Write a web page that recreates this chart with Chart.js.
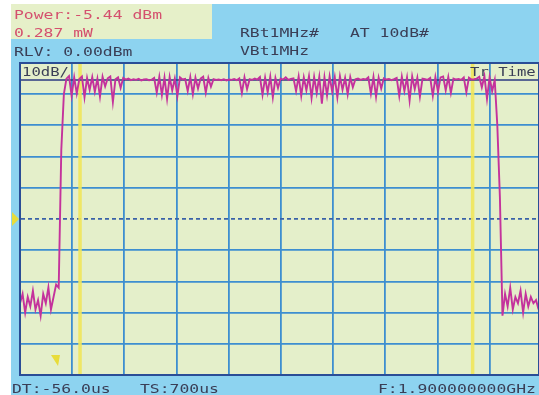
<!DOCTYPE html>
<html>
<head>
<meta charset="utf-8">
<script src="https://cdn.jsdelivr.net/npm/chart.js@4"></script>
<style>
    body { margin: 0; background: #fff; }
    #wrap { position: relative; width: 539px; height: 395px; overflow: hidden; }
    #panel { position: absolute; left: 11px; top: 4px; right: 0; bottom: 0; background: #8dd3f0; }
    #powerbox { position: absolute; left: 11px; top: 4px; width: 201px; height: 35px; background: #e6f0c9; }
    canvas { position: absolute; left: 0; top: 0; }
    .t {
        position: absolute; white-space: pre;
        font-family: "DejaVu Sans Mono", monospace; font-size: 16.4px; line-height: 16px;
        color: #3a3e56; transform: scaleY(0.8); transform-origin: 0 0;
    }
    .red { color: #d4506e; }
    .small { font-size: 15.6px; }
</style>
</head>
<body>
<div id="wrap">
    <div id="panel"></div>
    <div id="powerbox"></div>
    <canvas id="sa" width="539" height="395"></canvas>

    <div class="t red" style="left:14px; top:9px;">Power:-5.44 dBm</div>
    <div class="t red" style="left:14px; top:26.5px;">0.287 mW</div>
    <div class="t" style="left:14px; top:45.5px;">RLV: 0.00dBm</div>
    <div class="t" style="left:240px; top:26.5px;">RBt1MHz#</div>
    <div class="t" style="left:350px; top:26.5px;">AT 10dB#</div>
    <div class="t" style="left:240px; top:44.5px;">VBt1MHz</div>
    <div class="t small" style="left:22px; top:65.5px;">10dB/</div>
    <div class="t small" style="left:470px; top:65.5px;">Tr Time</div>
    <div class="t" style="left:12px; top:382.5px;">DT:-56.0us</div>
    <div class="t" style="left:140px; top:382.5px;">TS:700us</div>
    <div class="t" style="left:378px; top:382.5px;">F:1.900000000GHz</div>
</div>

<script>
// sweep: 700us span, 10 dB/div from a 0 dBm reference level
const SAMPLE_US = 3.46;
const X_DIVS = [0, 70, 140, 210, 280, 350, 420, 490, 560, 630];
const Y_DIVS = [-100, -90, -80, -70, -60, -50, -40, -30, -20, -10, 0];
const POWER_DBM = -5.44;
const MARKERS_US = [80.5, 607];

// trace level in dBm, one value per sample
const TRACE_DBM = [
    -77, -74, -80, -75, -78, -73, -79, -76, -81, -74, -77, -72, -79, -75, -71,
    -72, -28, -10,
    -5.0, -4.2, -10.5, -4.6, -9.8, -5.1, -4.3, -11.0, -4.8, -8.6,
    -4.5, -9.2, -5.0, -10.8, -4.4, -7.5, -4.9, -4.3, -12.5, -5.2,
    -4.6, -8.0, -4.8, -5.3, -5.0, -5.5, -5.2, -5.4, -5.1, -5.6,
    -5.3, -5.2, -5.5, -5.4, -4.8, -9.5, -4.4, -10.2, -4.7, -11.5,
    -4.5, -8.8, -5.0, -10.6, -4.6, -5.3, -5.1, -9.0, -4.5, -10.0,
    -4.7, -8.2, -5.0, -4.4, -9.5, -4.8, -7.6, -5.2, -5.4, -5.3,
    -5.5, -5.2, -5.6, -5.3, -5.4, -5.1, -5.5, -4.9, -9.6, -4.6,
    -8.4, -5.2, -5.4, -5.0, -5.3, -4.5, -10.2, -4.7, -9.4, -4.4,
    -11.0, -4.8, -8.0, -5.0, -5.3, -4.6, -5.4, -5.1, -4.9, -9.0,
    -4.3, -10.5, -4.6, -8.8, -4.2, -11.2, -4.5, -9.6, -4.4, -13.0,
    -4.6, -10.4, -4.3, -9.2, -4.5, -11.0, -4.2, -8.6, -4.8, -10.0,
    -4.5, -7.8, -5.2, -5.0, -5.4, -5.1, -5.3, -4.6, -9.8, -4.5,
    -10.8, -4.7, -8.2, -4.9, -5.3, -5.1, -5.5, -5.2, -4.8, -10.6,
    -4.4, -9.0, -4.6, -12.0, -4.3, -8.4, -4.7, -10.8, -5.0, -5.2,
    -5.4, -4.8, -10.5, -4.5, -9.2, -4.6, -4.3, -8.8, -4.5, -9.6,
    -5.0, -5.3, -5.1, -5.4, -4.6, -9.4, -4.7, -5.3, -5.2, -5.0,
    -4.4, -7.8, -4.2, -11.5, -4.6, -9.0,
    -5.5,
    -20, -43, -81,
    -74, -78, -72, -79, -75, -77, -73, -80, -74, -78, -75, -77, -76, -79
];

const GRID_BLUE = '#3d8ed0';
const FRAME = '#2a4d96';

const screen = {
    id: 'screen',
    beforeDraw(chart) {
        let {ctx, chartArea: a} = chart;
        ctx.save();
        ctx.fillStyle = '#e4efca';
        ctx.fillRect(a.left, a.top, a.right - a.left, a.bottom - a.top);
        ctx.restore();
    },
    afterDraw(chart) {
        let {ctx, chartArea: a} = chart;
        let y = chart.scales.y;
        ctx.save();
        ctx.strokeStyle = FRAME;
        ctx.lineWidth = 2;
        ctx.strokeRect(a.left, a.top, a.right - a.left, a.bottom - a.top);

        // reference marker on the left edge, at the centre line
        let mid = y.getPixelForValue(-50);
        ctx.fillStyle = '#e8dc3a';
        ctx.beginPath();
        ctx.moveTo(12, mid - 7);
        ctx.lineTo(19, mid);
        ctx.lineTo(12, mid + 7);
        ctx.closePath();
        ctx.fill();

        // trigger marker near the bottom
        ctx.beginPath();
        ctx.moveTo(51, a.bottom - 20);
        ctx.lineTo(60, a.bottom - 20);
        ctx.lineTo(58, a.bottom - 9);
        ctx.closePath();
        ctx.fill();
        ctx.restore();
    }
};

new Chart(document.getElementById('sa'), {
    type: 'line',
    data: {
        datasets: [
            {
                data: TRACE_DBM.map((v, i) => ({x: i * SAMPLE_US, y: v})),
                borderColor: '#c4329c',
                borderWidth: 1.9,
                pointRadius: 0,
                tension: 0,
            },
            {
                data: [{x: 0, y: POWER_DBM}, {x: 700, y: POWER_DBM}],
                borderColor: '#2b3a80',
                borderWidth: 1.6,
                pointRadius: 0,
            },
            ...MARKERS_US.map(m => ({
                data: [{x: m, y: -100}, {x: m, y: 0}],
                borderColor: 'rgba(240,230,90,0.9)',
                borderWidth: 3.5,
                pointRadius: 0,
            }))
        ]
    },
    options: {
        responsive: false,
        animation: false,
        events: [],
        layout: {
            padding: {left: 20, top: 63, right: 0, bottom: 20}
        },
        plugins: {
            legend: {display: false},
            tooltip: {enabled: false}
        },
        scales: {
            x: {
                type: 'linear',
                min: 0,
                max: 696,
                afterBuildTicks: s => { s.ticks = X_DIVS.map(v => ({value: v})); },
                ticks: {display: false},
                grid: {color: GRID_BLUE, lineWidth: 1.8, drawTicks: false},
                border: {display: true, color: FRAME, width: 2}
            },
            y: {
                min: -100,
                max: 0,
                afterBuildTicks: s => { s.ticks = Y_DIVS.map(v => ({value: v})); },
                ticks: {display: false},
                grid: {
                    color: ctx => ctx.tick && ctx.tick.value === -50 ? '#3a62a8' : GRID_BLUE,
                    lineWidth: 1.8,
                    drawTicks: false
                },
                border: {
                    display: true,
                    color: FRAME,
                    width: 2,
                    dash: ctx => ctx.tick && ctx.tick.value === -50 ? [4, 3] : []
                }
            }
        }
    },
    plugins: [screen]
});
</script>
</body>
</html>
